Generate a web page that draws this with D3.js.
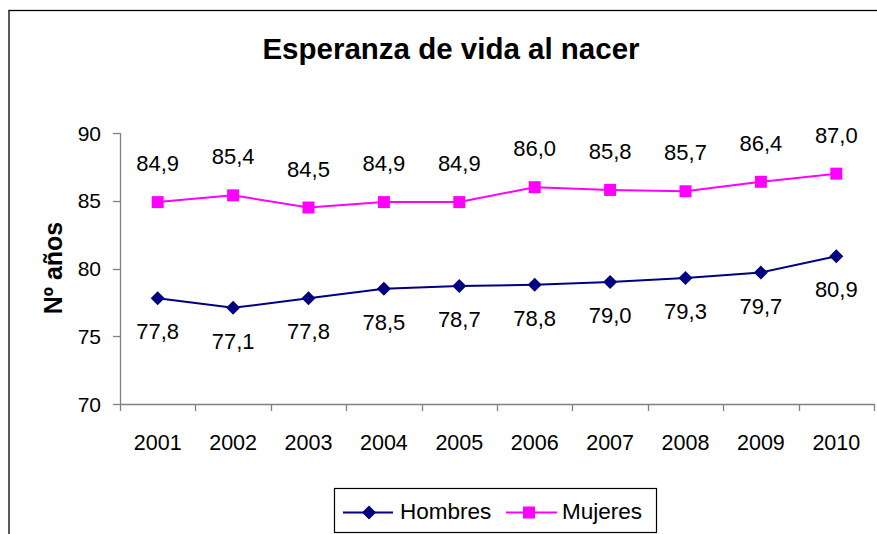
<!DOCTYPE html>
<html><head><meta charset="utf-8">
<script src="https://cdn.jsdelivr.net/npm/d3@7"></script>
<style>body{margin:0;background:#fff}svg{display:block;font-family:"Liberation Sans",Arial,sans-serif}</style>
</head><body>
<script>
const years = ["2001","2002","2003","2004","2005","2006","2007","2008","2009","2010"];
const hombres = [77.8,77.1,77.8,78.5,78.7,78.8,79.0,79.3,79.7,80.9];
const mujeres = [84.9,85.4,84.5,84.9,84.9,86.0,85.8,85.7,86.4,87.0];
const yTicks = [70,75,80,85,90];
const title = "Esperanza de vida al nacer";
const yTitle = "Nº años";
const seriesNames = ["Hombres","Mujeres"];

(function(){
const W=877,H=534;
const svg=d3.select("body").append("svg").attr("width",W).attr("height",H);
svg.append("rect").attr("width",W).attr("height",H).attr("fill","#fff");
svg.append("rect").attr("x",9).attr("y",10.5).attr("width",900).attr("height",600)
  .attr("fill","none").attr("stroke","#000").attr("stroke-width",1.3);

const pL=120,pR=874,pT=133,pB=404;
const x=d3.scaleBand().domain(years).range([pL,pR]).padding(0);
const y=d3.scaleLinear().domain([70,90]).range([pB,pT]);
const fmt=v=>v.toFixed(1).replace(".",",");

svg.append("text").attr("x",451).attr("y",59).attr("text-anchor","middle")
  .attr("font-weight","bold").attr("font-size",29.5).text(title);

const axisColor="#808080";
svg.append("line").attr("x1",pL+0.5).attr("x2",pL+0.5).attr("y1",pT).attr("y2",pB).attr("stroke",axisColor).attr("stroke-width",1.3);
svg.append("line").attr("x1",pL).attr("x2",pR).attr("y1",pB+0.5).attr("y2",pB+0.5).attr("stroke",axisColor).attr("stroke-width",1.3);
yTicks.forEach(t=>{
  svg.append("line").attr("x1",113).attr("x2",pL).attr("y1",Math.round(y(t))+0.5).attr("y2",Math.round(y(t))+0.5).attr("stroke",axisColor).attr("stroke-width",1.3);
  svg.append("text").attr("x",101).attr("y",y(t)+7.5).attr("text-anchor","end").attr("font-size",21).text(t);
});
const bounds=years.map(d=>x(d)).concat([pR]);
bounds.forEach(b=>{
  svg.append("line").attr("x1",Math.round(b)+0.5).attr("x2",Math.round(b)+0.5).attr("y1",pB).attr("y2",411).attr("stroke",axisColor).attr("stroke-width",1.3);
});
years.forEach(d=>{
  svg.append("text").attr("x",x(d)+x.bandwidth()/2).attr("y",450).attr("text-anchor","middle").attr("font-size",21.5).text(d);
});
svg.append("text").attr("transform","translate(62,268) rotate(-90)").attr("text-anchor","middle")
  .attr("font-weight","bold").attr("font-size",25).text(yTitle);

const cx=d=>x(d)+x.bandwidth()/2;
const line=d3.line().x((v,i)=>cx(years[i])).y(v=>y(v));
const cH="#000080",cM="#FF00FF";
svg.append("path").attr("d",line(mujeres)).attr("fill","none").attr("stroke",cM).attr("stroke-width",2);
svg.append("path").attr("d",line(hombres)).attr("fill","none").attr("stroke",cH).attr("stroke-width",2);
mujeres.forEach((v,i)=>{
  svg.append("rect").attr("x",cx(years[i])-6).attr("y",y(v)-6).attr("width",12).attr("height",12).attr("fill",cM);
  svg.append("text").attr("x",cx(years[i])).attr("y",y(v)-31).attr("text-anchor","middle").attr("font-size",22).text(fmt(v));
});
hombres.forEach((v,i)=>{
  svg.append("path").attr("d","M0,-7L7,0L0,7L-7,0Z").attr("transform",`translate(${cx(years[i])},${y(v)})`).attr("fill",cH);
  svg.append("text").attr("x",cx(years[i])).attr("y",y(v)+41).attr("text-anchor","middle").attr("font-size",22).text(fmt(v));
});

const lg=svg.append("g");
lg.append("rect").attr("x",334.5).attr("y",488.5).attr("width",322).attr("height",44).attr("fill","#fff").attr("stroke","#000").attr("stroke-width",1.2);
const ly=512.5;
lg.append("line").attr("x1",343).attr("x2",393).attr("y1",ly).attr("y2",ly).attr("stroke",cH).attr("stroke-width",2);
lg.append("path").attr("d","M0,-7L7,0L0,7L-7,0Z").attr("transform",`translate(369,${ly})`).attr("fill",cH);
lg.append("text").attr("x",400).attr("y",519).attr("font-size",22.5).text(seriesNames[0]);
lg.append("line").attr("x1",506).attr("x2",557).attr("y1",ly).attr("y2",ly).attr("stroke",cM).attr("stroke-width",2);
lg.append("rect").attr("x",523).attr("y",ly-6).attr("width",12).attr("height",12).attr("fill",cM);
lg.append("text").attr("x",562).attr("y",519).attr("font-size",22.5).text(seriesNames[1]);
})();
</script>
</body></html>
